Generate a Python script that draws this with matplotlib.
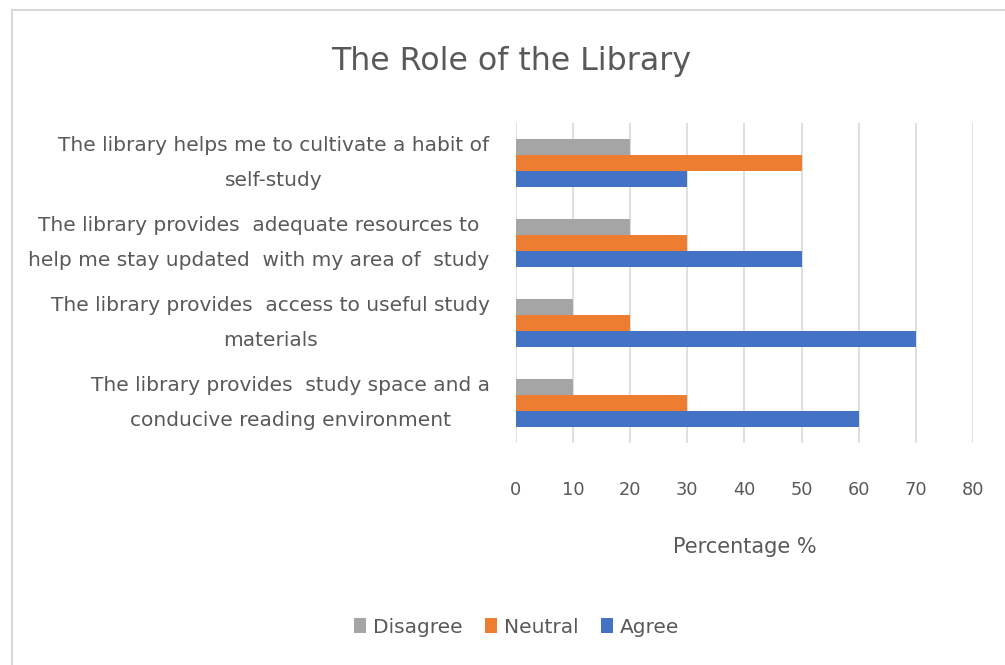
import numpy as np
import matplotlib.pyplot as plt
from matplotlib.patches import Rectangle

# Categories listed bottom to top (as drawn on the y axis)
categories = ['The library provides  study space and a\nconducive reading environment',
              'The library provides  access to useful study\nmaterials',
              'The library provides  adequate resources to\nhelp me stay updated  with my area of  study',
              'The library helps me to cultivate a habit of\nself-study']
disagree = [10, 10, 20, 20]
neutral = [30, 20, 30, 50]
agree = [60, 70, 50, 30]
xticks = [0, 10, 20, 30, 40, 50, 60, 70, 80]

txt = '#595959'
plt.rcParams['font.family'] = ['DejaVu Sans']

fig = plt.figure(figsize=(10.05, 6.65), dpi=100)
ax = fig.add_axes([0.5134, 0.3338, 0.4547, 0.4812])

y = np.arange(len(categories))
h = 0.2
ax.barh(y + h, disagree, height=h, color='#A5A5A5', label='Disagree', zorder=3)
ax.barh(y, neutral, height=h, color='#ED7D31', label='Neutral', zorder=3)
ax.barh(y - h, agree, height=h, color='#4472C4', label='Agree', zorder=3)

ax.set_xlim(0, 80)
ax.set_ylim(-0.5, 3.5)
ax.set_xticks(xticks)
ax.set_yticks(y)
ax.set_yticklabels(categories, multialignment='center', linespacing=2.05, va='center')
ax.grid(axis='x', color='#D9D9D9', lw=1.2, zorder=0)
for s in ax.spines.values():
    s.set_visible(False)
ax.tick_params(axis='both', length=0, colors=txt, labelsize=12.8)
ax.tick_params(axis='x', pad=27)
ax.tick_params(axis='y', pad=19, labelsize=14.5)

ax.set_xlabel('Percentage %', color=txt, fontsize=15, labelpad=28)

fig.text(0.509, 0.907, 'The Role of the Library', ha='center', va='center',
         fontsize=22.8, color=txt)

fig.legend(loc='center', bbox_to_anchor=(0.514, 0.057), ncol=3, frameon=False,
           fontsize=14.5, labelcolor=txt, handlelength=0.6, handleheight=0.7,
           handletextpad=0.35, columnspacing=1.1)

# light chart border (cut off at right/bottom as in the screenshot)
fig.patches.append(Rectangle((12 / 1005, -0.05), 1.1, 1 - 10 / 665 + 0.05,
                             transform=fig.transFigure, fill=False,
                             edgecolor='#D9D9D9', lw=1.5))

fig.savefig('out.png', dpi=100)
